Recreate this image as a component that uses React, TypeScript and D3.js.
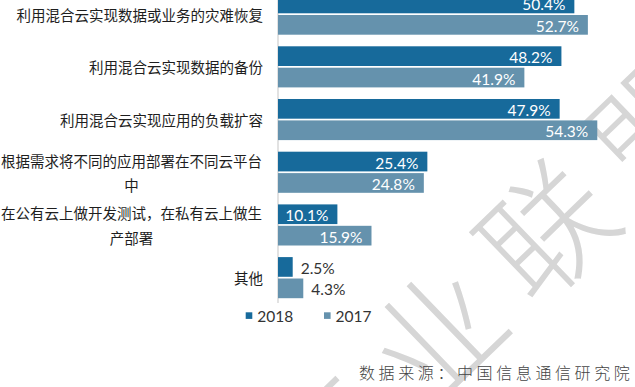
import * as d3 from "d3";

const WIDTH = 635;
const HEIGHT = 387;

const categories = [
  "利用混合云实现数据或业务的灾难恢复",
  "利用混合云实现数据的备份",
  "利用混合云实现应用的负载扩容",
  "根据需求将不同的应用部署在不同云平台中",
  "在公有云上做开发测试，在私有云上做生产部署",
  "其他",
];
const years = ["2018", "2017"];
const values2018 = [50.4, 48.2, 47.9, 25.4, 10.1, 2.5];
const values2017 = [52.7, 41.9, 54.3, 24.8, 15.9, 4.3];

const COLORS: Record<string, string> = { "2018": "#176a9b", "2017": "#6592ad" };
const CJK = "'Noto Sans CJK SC', 'Noto Sans', sans-serif";
const NUM = "Lato, 'Noto Sans', sans-serif";
const MAX_CHARS = 18;

// split long labels the way the original wraps them
const wrap = (s: string) => {
  const lines: string[] = [];
  for (let i = 0; i < s.length; i += MAX_CHARS) lines.push(s.slice(i, i + MAX_CHARS));
  return lines;
};

export default function App() {
  const x = d3.scaleLinear().domain([0, 60]).range([278, 630.8]);
  const y = d3
    .scaleBand()
    .domain(categories)
    .range([-12.2, 304])
    .paddingInner(0.22)
    .paddingOuter(0.11);
  const yInner = d3
    .scaleBand()
    .domain(years)
    .range([0, y.bandwidth()])
    .paddingInner(0.08);

  const rows = categories.map((c, i) => ({
    name: c,
    values: [
      { year: "2018", value: values2018[i] },
      { year: "2017", value: values2017[i] },
    ],
  }));

  return (
    <svg
      width={WIDTH}
      height={HEIGHT}
      style={{ position: "absolute", left: 0, top: 0, background: "#fff" }}
    >
      {/* watermark */}
      <text
        transform="translate(432,330) rotate(-44)"
        fontFamily={CJK}
        fontWeight={300}
        fontSize={128}
        fill="#d6d6d6"
        dominantBaseline="central"
        textAnchor="middle"
      >
        {"产业联盟".split("").map((ch, i) => (
          <tspan key={i} x={(i - 1) * 152} y={0}>
            {ch}
          </tspan>
        ))}
      </text>

      <line x1={278} x2={278} y1={0} y2={303} stroke="#d9d9d9" strokeWidth={1.5} />

      {rows.map((r) => {
        const y0 = y(r.name) ?? 0;
        const cy = y0 + y.bandwidth() / 2;
        const lines = wrap(r.name);
        const lh = 24.5;
        return (
          <g key={r.name}>
            {lines.map((ln, j) => (
              <text
                key={j}
                x={lines.length > 1 ? 131.5 : 263}
                y={cy + (j - (lines.length - 1) / 2) * lh}
                textAnchor={lines.length > 1 ? "middle" : "end"}
                dominantBaseline="central"
                fontFamily={CJK}
                fontSize={14.5}
                fill="#1e1e1e"
              >
                {ln}
              </text>
            ))}
            {r.values.map((v) => {
              const by = y0 + (yInner(v.year) ?? 0);
              const bw = x(v.value) - x(0);
              const inside = bw > 50;
              return (
                <g key={v.year}>
                  <rect
                    x={x(0)}
                    y={by}
                    width={bw}
                    height={yInner.bandwidth()}
                    fill={COLORS[v.year]}
                  />
                  <text
                    x={inside ? x(v.value) - 9 : x(v.value) + 8}
                    y={by + yInner.bandwidth() / 2 + 1}
                    textAnchor={inside ? "end" : "start"}
                    dominantBaseline="central"
                    fontFamily={NUM}
                    fontSize={15.5}
                    fill={inside ? "#fff" : "#333"}
                  >
                    {v.value.toFixed(1)}%
                  </text>
                </g>
              );
            })}
          </g>
        );
      })}

      {/* legend */}
      {years.map((yr, i) => {
        const lx = 245.7 + i * 78.3;
        return (
          <g key={yr}>
            <rect x={lx} y={312.3} width={6.6} height={6.6} fill={COLORS[yr]} />
            <text
              x={lx + 11.6}
              y={315.5}
              dominantBaseline="central"
              fontFamily={NUM}
              fontSize={15.5}
              fill="#333"
            >
              {yr}
            </text>
          </g>
        );
      })}

      <text
        x={359}
        y={372}
        dominantBaseline="central"
        fontFamily={CJK}
        fontWeight={300}
        fontSize={16}
        letterSpacing={3.6}
        fill="#444"
      >
        数据来源：中国信息通信研究院
      </text>
    </svg>
  );
}
